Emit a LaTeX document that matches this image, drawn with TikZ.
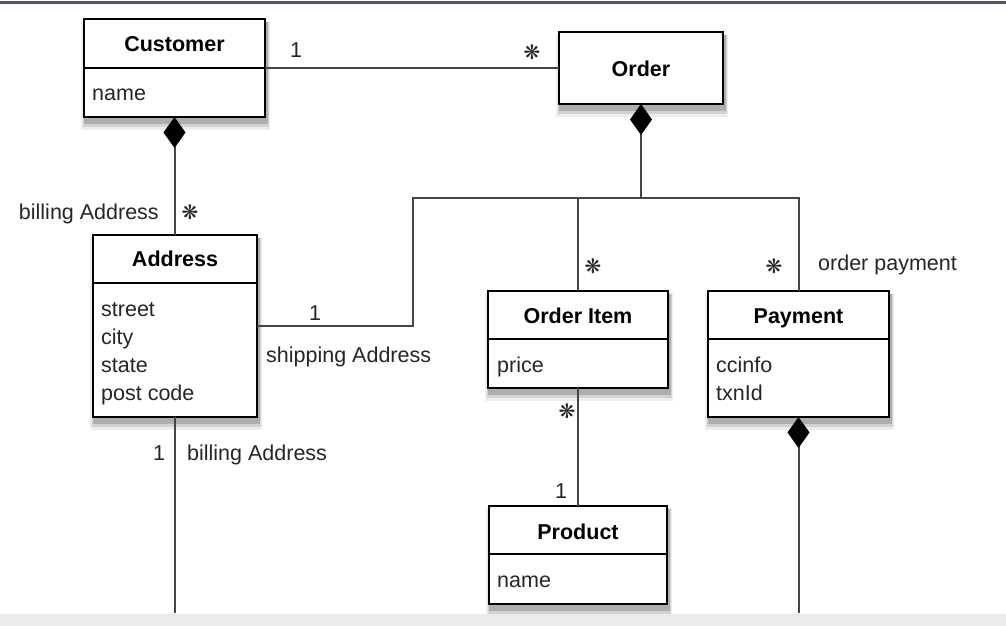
\documentclass[tikz,border=0pt]{standalone}
\usepackage{fontspec}
\setmainfont{Liberation Sans}
\newfontfamily\symfont{DejaVu Sans}
\usetikzlibrary{arrows.meta,backgrounds}
\definecolor{linec}{HTML}{454545}
\definecolor{txtc}{HTML}{262626}
\definecolor{topbar}{HTML}{4A5868}
\definecolor{botbar}{HTML}{EBEBEB}
\tikzset{
  umlbox/.style={draw=black, line width=2pt, fill=white, inner sep=0pt, outer sep=0pt},
  shadowA/.style={fill=black, opacity=0.07},
  shadowB/.style={fill=black, opacity=0.11},
  shadowC/.style={fill=black, opacity=0.17},
  divider/.style={draw=black, line width=1.8pt},
  title/.style={font=\fontsize{21.5}{25}\selectfont\bfseries, text=black, anchor=base, inner sep=0pt},
  attr/.style={font=\fontsize{21.5}{25}\selectfont, text=txtc, anchor=base west, inner sep=0pt},
  lbl/.style={font=\fontsize{21.5}{25}\selectfont, text=txtc, inner sep=0pt},
  mult/.style={font=\symfont\fontsize{20}{20}\selectfont, text=txtc, inner sep=0pt, anchor=center},
  conn/.style={draw=linec, line width=2pt},
  comp/.style={conn, {Diamond[length=31pt,width=22pt,fill=black,color=black]}-}
}
\begin{document}
\begin{tikzpicture}[x=1pt,y=-1pt]
\useasboundingbox (0,0) rectangle (1006,626);

% boxes
\node[umlbox, minimum width=181pt, minimum height=98pt] (cust) at (174.5,68) {};
\node[umlbox, minimum width=164pt, minimum height=72pt] (order) at (641,68) {};
\node[umlbox, minimum width=164pt, minimum height=182pt] (addr) at (175,326) {};
\node[umlbox, minimum width=180pt, minimum height=97pt] (item) at (578,339.5) {};
\node[umlbox, minimum width=181pt, minimum height=126pt] (pay) at (798.5,354) {};
\node[umlbox, minimum width=178pt, minimum height=98pt] (prod) at (578,555) {};

\begin{pgfonlayer}{background}
\fill[white] (0,0) rectangle (1006,626);
\foreach \b in {cust,order,addr,item,pay,prod}{
  \fill[shadowA] ([xshift=-3pt,yshift=-2pt]\b.north west) rectangle ([xshift=5pt,yshift=-13pt]\b.south east);
  \fill[shadowB] ([xshift=-1pt,yshift=-3pt]\b.north west) rectangle ([xshift=4pt,yshift=-10pt]\b.south east);
  \fill[shadowC] ([xshift=0pt,yshift=-3pt]\b.north west) rectangle ([xshift=3pt,yshift=-7pt]\b.south east);
}
\end{pgfonlayer}

\draw[topbar, line width=2.5pt] (0,2.5) -- (1006,2.5);
\fill[botbar] (0,614) rectangle (1006,626);

% dividers
\draw[divider] (cust.west |- 0,68) -- (cust.east |- 0,68);
\draw[divider] (addr.west |- 0,283) -- (addr.east |- 0,283);
\draw[divider] (item.west |- 0,339) -- (item.east |- 0,339);
\draw[divider] (pay.west |- 0,339) -- (pay.east |- 0,339);
\draw[divider] (prod.west |- 0,554) -- (prod.east |- 0,554);

% titles
\node[title] (custT) at (174.5,52) {Customer};
\node[title] (orderT) at (641,77) {Order};
\node[title] (addrT) at (175,266) {Address};
\node[title] (itemT) at (578,323) {Order Item};
\node[title] (payT) at (798.5,323) {Payment};
\node[title] (prodT) at (578,539) {Product};

% attributes
\node[attr] (custA) at (92,100) {name};
\node[attr] (addrA1) at (101,316) {street};
\node[attr] (addrA2) at (101,344) {city};
\node[attr] (addrA3) at (101,372) {state};
\node[attr] (addrA4) at (101,400) {post code};
\node[attr] (itemA) at (497,372) {price};
\node[attr] (payA1) at (716,372) {ccinfo};
\node[attr] (payA2) at (716,400) {txnId};
\node[attr] (prodA) at (497,587) {name};

% junction coordinates
\coordinate (j) at (641,198);
\coordinate (ja) at (413,198);
\coordinate (jb) at (413,326);
\coordinate (aend) at (175,613);
\coordinate (pend) at (798.5,613);

% connectors
\draw[conn] (cust.east) -- (order.west);
\draw[comp] (cust.south) -- (cust.south |- addr.north);
\draw[comp] (order.south) -- (j);
\draw[conn] (j) -- (ja) -- (jb) -- (addr.east |- jb);
\draw[conn] (j) -| (pay.north);
\draw[conn] (item.north |- j) -- (item.north);
\draw[conn] (item.south) -- (prod.north);
\draw[conn] (addr.south) -- (aend);
\draw[comp] (pay.south) -- (pend);

% labels
\node[lbl, anchor=base] (m1) at (296,57) {1};
\node[mult] (m2) at (532,52) {❋};
\node[lbl, anchor=base east] (l1) at (159,219) {billing Address};
\node[mult] (m3) at (190,212) {❋};
\node[lbl, anchor=base] (m4) at (315,320) {1};
\node[lbl, anchor=base west] (l2) at (266,362) {shipping Address};
\node[mult] (m5) at (593,266) {❋};
\node[mult] (m6) at (774,266) {❋};
\node[lbl, anchor=base west] (l3) at (818,270) {order payment};
\node[mult] (m7) at (567,411) {❋};
\node[lbl, anchor=base] (m8) at (561,498) {1};
\node[lbl, anchor=base] (m9) at (159,460) {1};
\node[lbl, anchor=base west] (l4) at (187,460) {billing Address};
\end{tikzpicture}
\end{document}
